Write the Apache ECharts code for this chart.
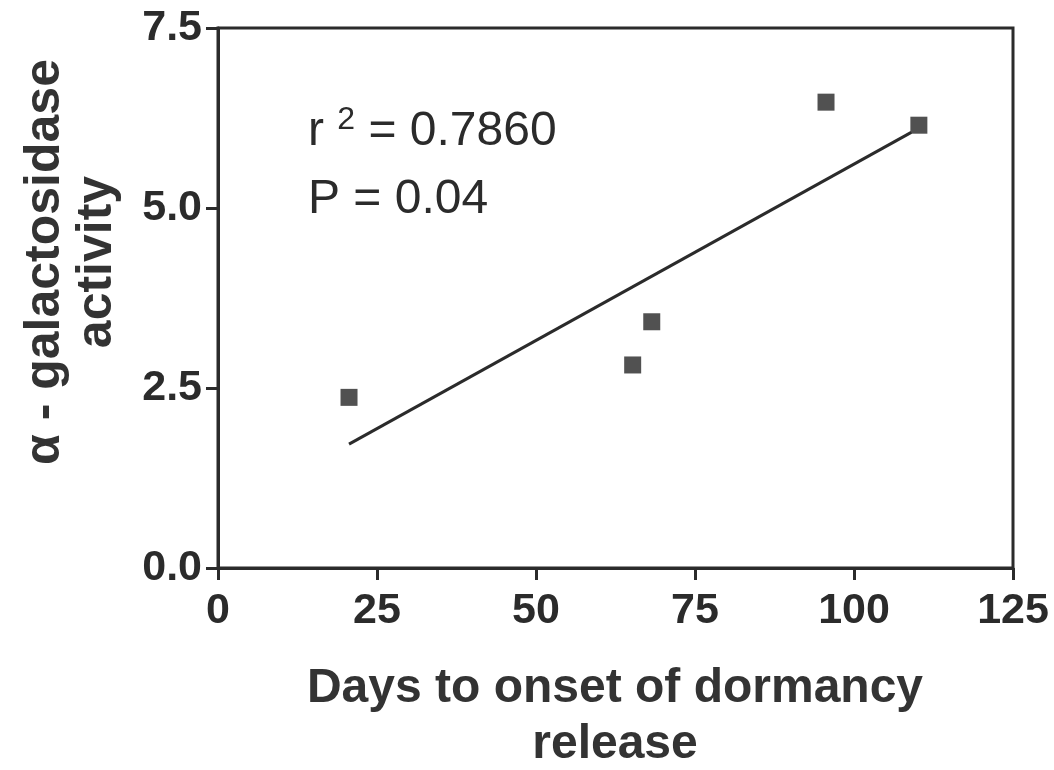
<!DOCTYPE html>
<html>
<head>
<meta charset="utf-8">
<script src="https://cdn.jsdelivr.net/npm/echarts@6/dist/echarts.min.js"></script>
<style>
  html, body { margin: 0; padding: 0; background: #fff; }
  #chart { width: 1054px; height: 770px; }
</style>
</head>
<body>
<div id="chart"></div>
<script>
// 数据点：天数 / α-半乳糖苷酶活性
var days = [20.6, 65.2, 68.2, 95.6, 110.2];
var activity = [2.37, 2.82, 3.42, 6.47, 6.15];
// 回归线两端
var fitX = [20.6, 109];
var fitY = [1.72, 6.05];
var xTicks = [0, 25, 50, 75, 100, 125];
var yTicks = [0, 2.5, 5, 7.5];

var ink = '#2b2b2b';
var font = 'Liberation Sans, Arial, sans-serif';

function pairs(a, b) {
    var out = [];
    for (var i = 0; i < a.length; i++) out.push([a[i], b[i]]);
    return out;
}

var Chart = echarts.init(document.getElementById('chart'));
Chart.setOption({
    animation: false,
    grid: {
        left: 218, right: 41, top: 28, bottom: 202,
        show: true, borderColor: ink, borderWidth: 3
    },
    xAxis: {
        type: 'value', min: xTicks[0], max: xTicks[xTicks.length - 1], interval: 25,
        axisLine: { lineStyle: { color: ink, width: 3 } },
        axisTick: { length: 12, lineStyle: { color: ink, width: 3 } },
        axisLabel: {
            margin: 22, color: ink, fontSize: 43, fontWeight: 'bold', fontFamily: font
        },
        splitLine: { show: false }
    },
    yAxis: {
        type: 'value', min: yTicks[0], max: yTicks[yTicks.length - 1], interval: 2.5,
        axisLine: { lineStyle: { color: ink, width: 3 } },
        axisTick: { length: 12, lineStyle: { color: ink, width: 3 } },
        axisLabel: {
            margin: 16, color: ink, fontSize: 43, fontWeight: 'bold', fontFamily: font,
            formatter: function (v) { return v.toFixed(1); }
        },
        splitLine: { show: false }
    },
    series: [
        {
            type: 'scatter',
            symbol: 'rect',
            symbolSize: 17,
            itemStyle: { color: '#262626' },
            data: pairs(days, activity)
        },
        {
            type: 'line',
            showSymbol: false,
            symbol: 'none',
            lineStyle: { color: ink, width: 3 },
            data: pairs(fitX, fitY)
        }
    ],
    graphic: [
        {
            type: 'text', left: 308, top: 104,
            style: {
                rich: {
                    n: { fontSize: 48, fill: ink, fontFamily: font },
                    s: { fontSize: 32, fill: ink, fontFamily: font, verticalAlign: 'top', padding: [0, 0, 24, 0] }
                },
                text: '{n|r }{s|2}{n| = 0.7860}'
            }
        },
        {
            type: 'text', left: 308, top: 176,
            style: { text: 'P = 0.04', fill: ink, fontSize: 48, fontFamily: font }
        },
        {
            type: 'text', x: 615, y: 717,
            style: {
                text: 'Days to onset of dormancy\nrelease', fill: '#333',
                fontSize: 48, fontWeight: 'bold', lineHeight: 56,
                align: 'center', verticalAlign: 'middle', fontFamily: font
            }
        },
        {
            type: 'text', x: 71, y: 262, rotation: Math.PI / 2,
            style: {
                text: 'α - galactosidase\nactivity', fill: '#333',
                fontSize: 50, fontWeight: 'bold', lineHeight: 52,
                align: 'center', verticalAlign: 'middle', fontFamily: font
            }
        }
    ]
});
</script>
</body>
</html>
